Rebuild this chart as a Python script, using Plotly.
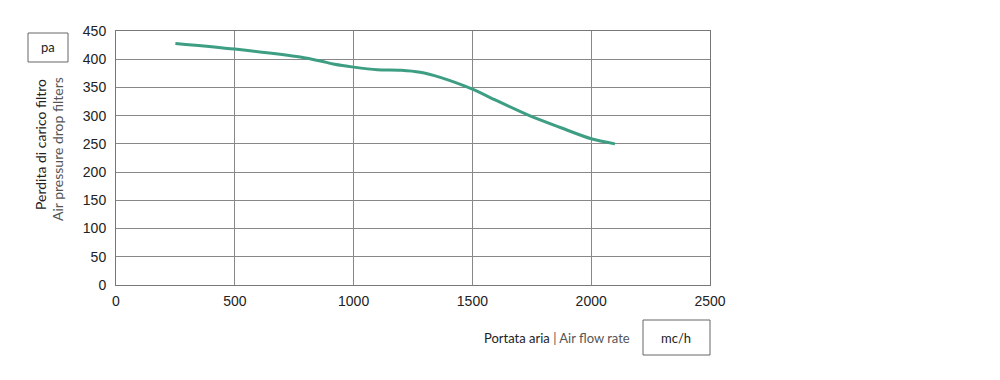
import plotly.graph_objects as go

flow_rate = [250, 500, 775, 860, 920, 1000, 1100, 1200, 1280, 1340, 1400, 1500, 1600, 1740, 1870, 2000, 2100]
pressure_drop = [428, 418, 404, 397, 391, 386, 381.5, 380.5, 377, 371, 363, 347, 327, 300, 279, 259, 250]
x_ticks = [0, 500, 1000, 1500, 2000, 2500]
y_ticks = [0, 50, 100, 150, 200, 250, 300, 350, 400, 450]

OFF = 8  # page body margin
L, R, T, B = 116 - OFF, 710 - OFF, 31 - OFF, 285 - OFF
def px(x): return (x - OFF - L) / (R - L)
def py(y): return (B - (y - OFF)) / (B - T)

fig = go.Figure()
fig.add_trace(go.Scatter(x=flow_rate, y=pressure_drop, mode="lines",
                         line=dict(color="#3d9e83", width=3, shape="spline", smoothing=0.8),
                         hoverinfo="x+y", showlegend=False))

axis_common = dict(showline=True, linecolor="#777", linewidth=1, mirror=True,
                   showgrid=True, gridcolor="#888", gridwidth=1, zeroline=False,
                   tickfont=dict(family="Liberation Sans, Arial", size=14, color="#222"),
                   ticks="outside", tickcolor="rgba(0,0,0,0)")
fig.update_xaxes(range=[0, 2500], tickvals=x_ticks, ticklen=3, **axis_common)
fig.update_yaxes(range=[0, 450], tickvals=y_ticks, ticklen=6, **axis_common)

fig.update_layout(width=1000, height=380,
                  margin=dict(l=L, r=1000 - R, t=T, b=380 - B, autoexpand=False),
                  plot_bgcolor="white", paper_bgcolor="white")

# unit boxes
fig.add_shape(type="rect", xref="paper", yref="paper", x0=px(28), x1=px(68), y0=py(62), y1=py(33),
              line=dict(color="#666", width=1))
fig.add_shape(type="rect", xref="paper", yref="paper", x0=px(643), x1=px(710), y0=py(355), y1=py(320),
              line=dict(color="#666", width=1))

def note(x, y, text, size=13, color="#222", angle=0, xanchor="center"):
    fig.add_annotation(xref="paper", yref="paper", x=px(x), y=py(y), text=text, showarrow=False,
                       xanchor=xanchor, yanchor="middle", textangle=angle,
                       font=dict(family="Lato", size=size, color=color))

note(48, 47, "pa")
note(676, 338, "mc/h")
note(40, 145, "Perdita di carico filtro", size=14, angle=-90)
note(57, 149, "Air pressure drop filters", size=14, color="#555", angle=-90)
note(632, 338, "Portata aria <span style='color:#555'>| Air flow rate</span>", xanchor="right")

fig.write_html("out.html")
